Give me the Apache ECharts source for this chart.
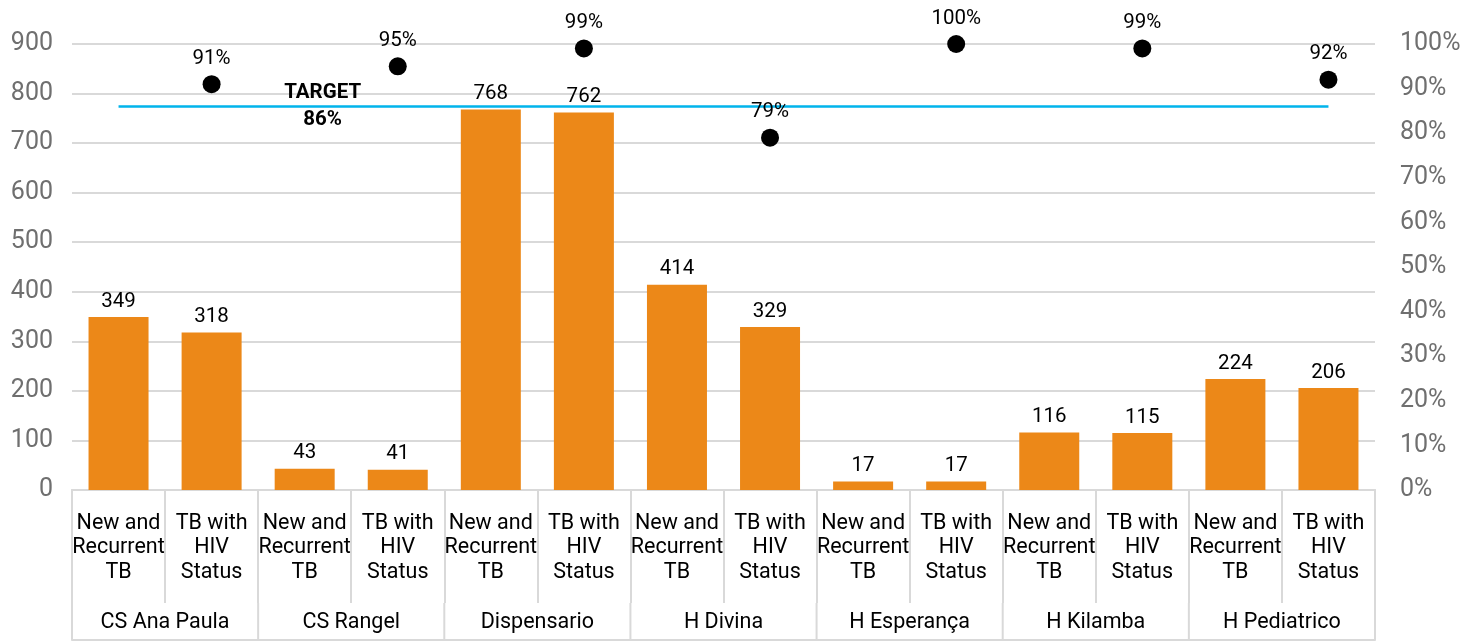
<!DOCTYPE html>
<html>
<head>
<meta charset="utf-8">
<title>TB cases and HIV status by facility</title>
<script src="https://cdn.jsdelivr.net/npm/echarts@6/dist/echarts.min.js"></script>
<style>
  html, body { margin: 0; padding: 0; background: #ffffff; }
  #chart { width: 1479px; height: 642px; }
</style>
</head>
<body>
<div id="chart"></div>
<script>
// Facilities (outer axis level) and measures (inner axis level)
const facilities = ['CS Ana Paula', 'CS Rangel', 'Dispensario', 'H Divina', 'H Esperança', 'H Kilamba', 'H Pediatrico'];
const measures = ['New and\nRecurrent\nTB', 'TB with\nHIV\nStatus'];

// Case counts per facility
const newRecurrentTB = [349, 43, 768, 414, 17, 116, 224];
const tbWithHivStatus = [318, 41, 762, 329, 17, 115, 206];

// Share of cases with known HIV status (%)
const hivStatusPct = [91, 95, 99, 79, 100, 99, 92];

// Target coverage (%)
const targetPct = 86;

// Axis ticks
const countTicks = { min: 0, max: 900, interval: 100 };
const pctTicks = { min: 0, max: 100, interval: 10 };

// Flatten facility x measure into one category list
const categories = [];
const counts = [];
facilities.forEach((f, i) => {
  categories.push(measures[0]);
  counts.push(newRecurrentTB[i]);
  categories.push(measures[1]);
  counts.push(tbWithHivStatus[i]);
});
const pctPoints = hivStatusPct.map((v, i) => [2 * i + 1, v]);
const targetLine = categories.map((c, i) => ({
  value: targetPct,
  label: i === 2 ? {
    show: true,
    position: 'inside',
    offset: [18, 0],
    formatter: 'TARGET\n' + targetPct + '%',
    fontFamily: 'Roboto',
    fontWeight: 'bold',
    fontSize: 20.5,
    lineHeight: 27,
    color: '#000'
  } : { show: false }
}));

const gridLine = '#d9d9d9';
const tickColor = '#6f6f6f';
const font = 'Roboto';
const innerRow = 113;   // height of the measure row under the plot
const outerRow = 150;   // bottom of the facility row under the plot

const chart = echarts.init(document.getElementById('chart'), null, { renderer: 'canvas' });
chart.setOption({
  animation: false,
  backgroundColor: '#ffffff',
  grid: { left: 72, right: 104, top: 44, bottom: 152, containLabel: false },
  xAxis: [
    {
      type: 'category',
      data: categories,
      position: 'bottom',
      boundaryGap: true,
      axisLine: { show: true, lineStyle: { color: gridLine, width: 2 } },
      axisTick: { show: true, interval: 0, length: innerRow, lineStyle: { color: gridLine, width: 2 } },
      axisLabel: {
        interval: 0, margin: 21, fontFamily: font, fontSize: 21.5, lineHeight: 24.5,
        color: '#000', align: 'center'
      },
      splitLine: { show: false }
    },
    {
      type: 'category',
      data: facilities,
      position: 'bottom',
      offset: innerRow,
      boundaryGap: true,
      axisLine: { show: true, lineStyle: { color: gridLine, width: 2 } },
      axisTick: { show: false },
      axisLabel: { interval: 0, margin: 9, fontFamily: font, fontSize: 21.5, color: '#000' },
      splitLine: { show: false }
    },
    {
      type: 'category',
      data: facilities,
      position: 'bottom',
      offset: outerRow,
      axisLine: { show: true, lineStyle: { color: gridLine, width: 2 } },
      axisTick: { show: false },
      axisLabel: { show: false },
      splitLine: { show: false }
    }
  ],
  yAxis: [
    {
      type: 'value',
      min: countTicks.min, max: countTicks.max, interval: countTicks.interval,
      axisLine: { show: false },
      axisTick: { show: false },
      axisLabel: { fontFamily: font, fontSize: 25, color: tickColor, margin: 19 },
      splitLine: { show: true, lineStyle: { color: gridLine, width: 2 } }
    },
    {
      type: 'value',
      min: pctTicks.min, max: pctTicks.max, interval: pctTicks.interval,
      position: 'right',
      axisLine: { show: false },
      axisTick: { show: false },
      axisLabel: { fontFamily: font, fontSize: 25, color: tickColor, margin: 25, formatter: '{value}%' },
      splitLine: { show: false }
    }
  ],
  series: [
    {
      name: 'Cases',
      type: 'bar',
      xAxisIndex: 0,
      yAxisIndex: 0,
      data: counts,
      barWidth: 60,
      itemStyle: { color: '#EC8818' },
      label: {
        show: true, position: 'top', distance: 5,
        fontFamily: font, fontSize: 20.5, color: '#000'
      },
      z: 2
    },
    {
      name: 'Target',
      type: 'line',
      xAxisIndex: 0,
      yAxisIndex: 1,
      data: targetLine,
      symbol: 'circle',
      symbolSize: 0,
      showSymbol: true,
      lineStyle: { color: '#00B4EC', width: 2.5 },
      itemStyle: { color: '#00B4EC' },
      silent: true,
      z: 3
    },
    {
      name: 'HIV status %',
      type: 'scatter',
      xAxisIndex: 0,
      yAxisIndex: 1,
      data: pctPoints,
      symbol: 'circle',
      symbolSize: 18,
      itemStyle: { color: '#000', opacity: 1 },
      label: {
        show: true, position: 'top', distance: 6,
        fontFamily: font, fontSize: 20.5, color: '#000',
        formatter: p => p.value[1] + '%'
      },
      z: 4
    }
  ]
});

// Cell borders of the two-row category table that the axes do not draw:
// the right edge of the measure row and the facility separators in the bottom row.
function drawTableBorders() {
  const base = chart.convertToPixel({ yAxisIndex: 0 }, 0);
  const x0 = chart.convertToPixel({ xAxisIndex: 0 }, 0);
  const x1 = chart.convertToPixel({ xAxisIndex: 0 }, 1);
  const band = x1 - x0;
  const left = x0 - band / 2;
  const elements = [];
  const line = (x, yA, yB) => ({
    type: 'line',
    shape: { x1: x, y1: yA, x2: x, y2: yB },
    style: { stroke: gridLine, lineWidth: 2 },
    silent: true
  });
  const right = left + band * categories.length;
  elements.push(line(right, base, base + innerRow));
  for (let g = 0; g <= facilities.length; g++) {
    elements.push(line(left + g * 2 * band, base + innerRow, base + outerRow));
  }
  chart.setOption({ graphic: elements });
}
drawTableBorders();
</script>
</body>
</html>
